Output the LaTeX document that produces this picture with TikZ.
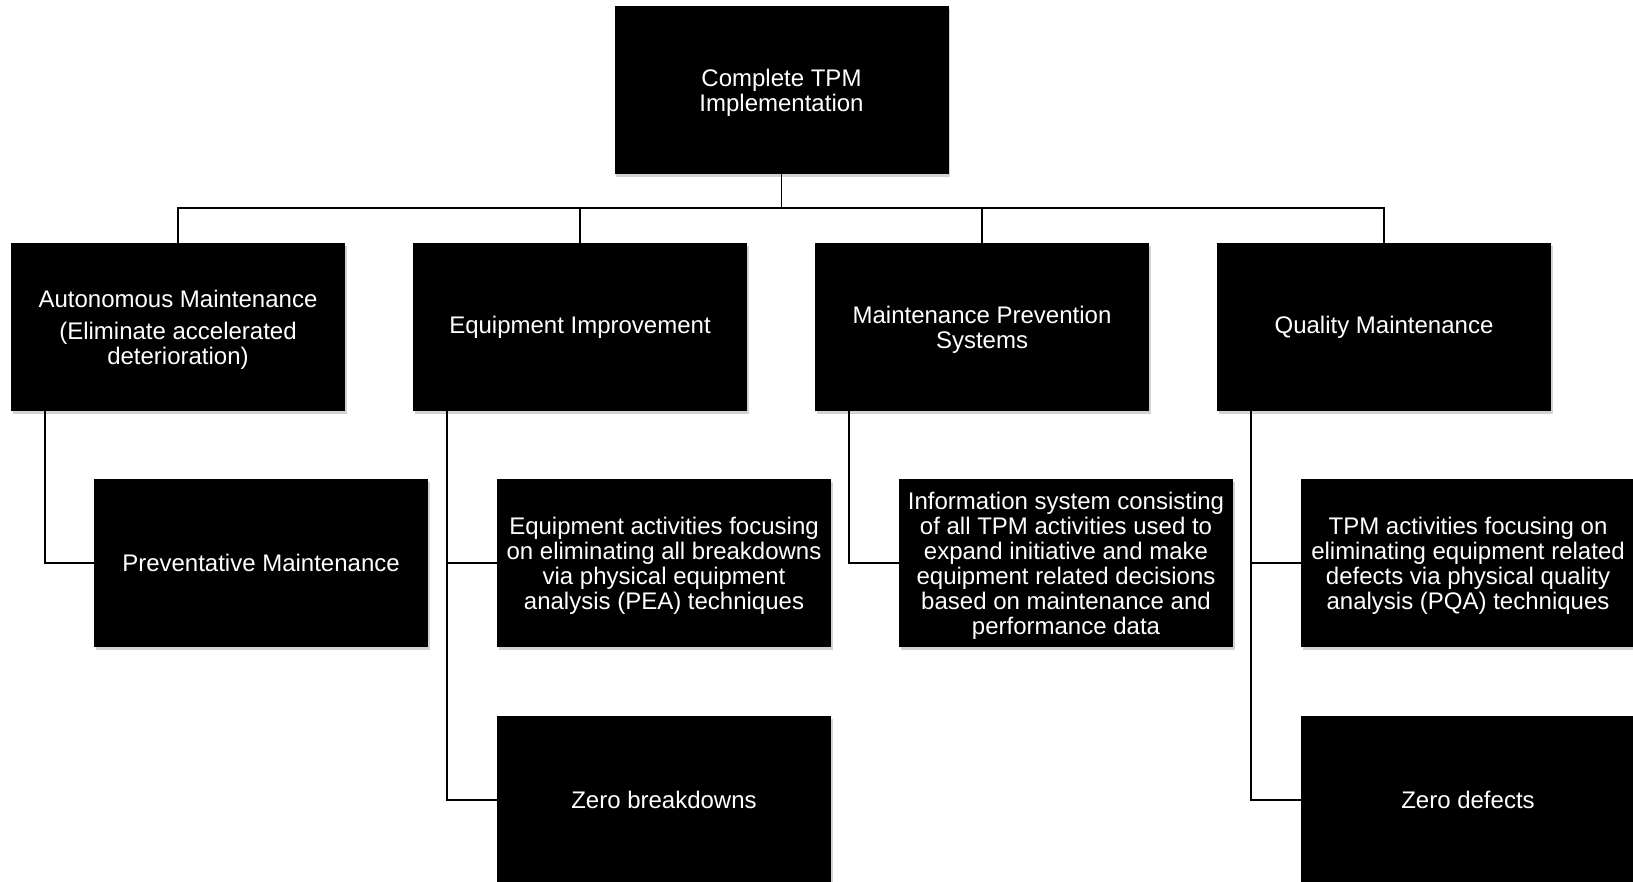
\documentclass[tikz,border=0pt]{standalone}
\usepackage{fontspec}
\setmainfont{Liberation Sans}
\usetikzlibrary{shadows,calc}
\tikzset{
  txt/.style={text=white, align=center, inner sep=0pt, font=\fontsize{24}{25}\selectfont},
  boxshape/.style={rectangle, fill=black, minimum width=334pt, minimum height=168pt,
    inner sep=0pt,
    drop shadow={shadow xshift=1.5pt, shadow yshift=-3pt, opacity=0.35, fill=gray}},
  box/.style={boxshape, label={[txt, yshift=-3pt]center:{#1}}},
  onebox/.style={boxshape, label={[txt]center:{#1}}},
  conn/.style={draw=black, line width=1.5pt}
}
\begin{document}
\begin{tikzpicture}[x=1pt,y=-1pt]
\useasboundingbox (0,0) rectangle (1633,881);
\node[box={Complete TPM\\Implementation}] (top) at (781.5,90) {};
\node[box={Autonomous Maintenance\\[7pt](Eliminate accelerated\\deterioration)}] (am) at (178,327) {};
\node[onebox={Equipment Improvement}] (ei) at (580,327) {};
\node[box={Maintenance Prevention\\Systems}] (mp) at (982,327) {};
\node[onebox={Quality Maintenance}] (qm) at (1384,327) {};
\node[onebox={Preventative Maintenance}] (pm) at (261,563) {};
\node[box={Equipment activities focusing\\on eliminating all breakdowns\\via physical equipment\\analysis (PEA) techniques}] (ea) at (664,563) {};
\node[onebox={Zero breakdowns}] (zb) at (664,800) {};
\node[box={Information system consisting\\of all TPM activities used to\\expand initiative and make\\equipment related decisions\\based on maintenance and\\performance data}] (is) at (1066,563) {};
\node[box={TPM activities focusing on\\eliminating equipment related\\defects via physical quality\\analysis (PQA) techniques}] (ta) at (1468,563) {};
\node[onebox={Zero defects}] (zd) at (1468,800) {};
\coordinate (bus) at (0,208);
\draw[conn] (top.south) -- (top.south |- bus);
\draw[conn] (am.north) -- (am.north |- bus) -- (qm.north |- bus) -- (qm.north);
\draw[conn] (ei.north) -- (ei.north |- bus);
\draw[conn] (mp.north) -- (mp.north |- bus);
\draw[conn] ([xshift=34pt]am.south west) |- (pm.west);
\draw[conn] ([xshift=34pt]ei.south west) |- (ea.west);
\draw[conn] ([xshift=34pt]ei.south west) |- (zb.west);
\draw[conn] ([xshift=34pt]mp.south west) |- (is.west);
\draw[conn] ([xshift=34pt]qm.south west) |- (ta.west);
\draw[conn] ([xshift=34pt]qm.south west) |- (zd.west);
\end{tikzpicture}
\end{document}
